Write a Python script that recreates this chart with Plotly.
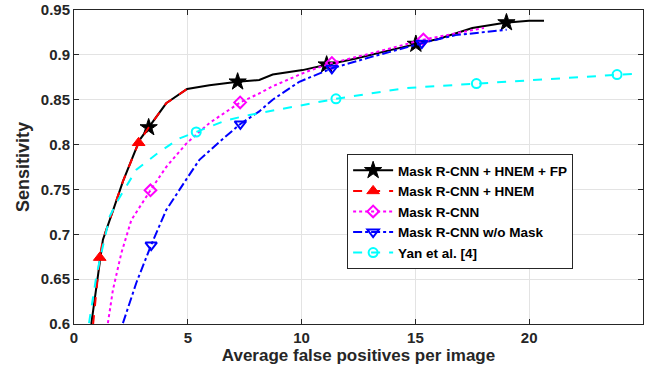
import plotly.graph_objects as go

# ---- data ----
fp_x = [0.76, 1.27, 1.72, 2.15, 2.88, 3.28, 4.05, 4.97, 5.95, 7.19, 8.14, 8.73, 10.04, 11.1, 12.39, 13.85, 15.02, 16.04, 17.5, 19.0, 19.99, 20.65]
fp_y = [0.600, 0.694, 0.727, 0.759, 0.805, 0.819, 0.846, 0.862, 0.866, 0.870, 0.872, 0.878, 0.883, 0.889, 0.896, 0.905, 0.912, 0.918, 0.930, 0.936, 0.938, 0.938]
fp_mx = [3.28, 7.19, 11.1, 15.02, 19.0]
fp_my = [0.819, 0.870, 0.889, 0.912, 0.936]

hn_x = [0.84, 1.13, 1.27, 1.72, 2.15, 2.84, 3.28, 4.05, 4.97]
hn_y = [0.600, 0.674, 0.694, 0.727, 0.759, 0.802, 0.819, 0.846, 0.862]
hn_mx = [1.13, 2.84]
hn_my = [0.674, 0.802]

mr_x = [1.49, 1.71, 2.08, 2.52, 3.36, 4.05, 4.93, 5.95, 7.30, 8.14, 8.73, 10.19, 11.33, 13.11, 15.35, 16.77, 18.01]
mr_y = [0.601, 0.638, 0.679, 0.716, 0.749, 0.775, 0.801, 0.824, 0.847, 0.857, 0.865, 0.881, 0.891, 0.902, 0.917, 0.924, 0.930]
mr_mx = [3.36, 7.30, 11.33, 15.35]
mr_my = [0.749, 0.847, 0.891, 0.917]

nm_x = [2.15, 2.74, 3.39, 4.05, 4.93, 5.51, 6.39, 7.31, 8.14, 8.73, 9.9, 11.33, 13.11, 15.28, 16.77, 19.01]
nm_y = [0.601, 0.646, 0.688, 0.727, 0.761, 0.783, 0.803, 0.823, 0.837, 0.850, 0.870, 0.885, 0.898, 0.913, 0.922, 0.928]
nm_mx = [3.39, 7.31, 11.33, 15.28]
nm_my = [0.688, 0.823, 0.885, 0.913]

yan_x = [0.66, 0.98, 1.2, 1.57, 1.93, 2.74, 3.76, 4.64, 5.37, 6.68, 7.71, 11.51, 14.58, 17.68, 23.86, 24.67]
yan_y = [0.601, 0.653, 0.679, 0.720, 0.738, 0.772, 0.792, 0.807, 0.814, 0.827, 0.833, 0.851, 0.863, 0.868, 0.878, 0.879]
yan_mx = [5.37, 11.51, 17.68, 23.86]
yan_my = [0.814, 0.851, 0.868, 0.878]

x_ticks = [0, 5, 10, 15, 20, 25]
y_ticks = [0.6, 0.65, 0.7, 0.75, 0.8, 0.85, 0.9, 0.95]
y_tick_text = ["0.6", "0.65", "0.7", "0.75", "0.8", "0.85", "0.9", "0.95"]

names = ["Mask R-CNN + HNEM + FP", "Mask R-CNN + HNEM", "Mask R-CNN",
         "Mask R-CNN w/o Mask", "Yan et al. [4]"]

series = [
    (fp_x, fp_y, fp_mx, fp_my, "black", "solid", "star", 13, "black"),
    (hn_x, hn_y, hn_mx, hn_my, "red", "dash", "triangle-up", 11, "red"),
    (mr_x, mr_y, mr_mx, mr_my, "#ff00ff", "dot", "diamond-open", 9, None),
    (nm_x, nm_y, nm_mx, nm_my, "blue", "dashdot", "triangle-down-open", 10, None),
    (yan_x, yan_y, yan_mx, yan_my, "#00ffff", "dash", "circle-open", 9, None),
]

fig = go.Figure()
for name, (xs, ys, mx, my, col, dash, sym, sz, fill) in zip(names, series):
    fig.add_trace(go.Scatter(x=xs, y=ys, mode="lines", showlegend=False,
                             line=dict(color=col, width=2, dash=dash)))
    mk = dict(symbol=sym, size=sz, color=fill if fill else col,
              line=dict(color=col, width=2 if fill is None else 1))
    fig.add_trace(go.Scatter(x=mx, y=my, mode="markers", showlegend=False, marker=mk))
    fig.add_trace(go.Scatter(x=[None], y=[None], mode="lines+markers", name=name,
                             line=dict(color=col, width=2, dash=dash), marker=mk))

tickfont = dict(family="Liberation Sans", size=15, color="#262626", weight="bold")
axis_common = dict(showline=True, linecolor="#262626", linewidth=1, mirror="allticks",
                   ticks="inside", ticklen=5, tickcolor="#262626",
                   showgrid=True, gridcolor="#e3e3e3", gridwidth=1, zeroline=False,
                   automargin=False, tickfont=tickfont)

fig.update_xaxes(range=[0, 25], tickvals=x_ticks,
                 title=dict(text="Average false positives per image", standoff=2,
                            font=dict(family="Liberation Sans", size=17, color="#262626", weight="bold")),
                 **axis_common)
fig.update_yaxes(range=[0.6, 0.95], tickvals=y_ticks, ticktext=y_tick_text,
                 title=dict(text="Sensitivity", standoff=6,
                            font=dict(family="Liberation Sans", size=18, color="#262626", weight="bold")),
                 **axis_common)

fig.update_layout(
    width=649, height=370,
    margin=dict(l=74, r=6, t=10, b=46),
    paper_bgcolor="white", plot_bgcolor="white",
    font=dict(family="Liberation Sans", color="#262626"),
    legend=dict(x=0.48, y=0.358, xanchor="left", yanchor="middle",
                bgcolor="white", bordercolor="#262626", borderwidth=1,
                font=dict(family="Liberation Sans", size=13.5, color="black", weight="bold"),
                tracegroupgap=0, itemwidth=40),
)

# remove the default 8px page margin so the figure sits at the window origin
fig.write_html("out.html", config={"displayModeBar": False},
               post_script="document.body.style.margin='0';document.body.style.overflow='hidden';")
